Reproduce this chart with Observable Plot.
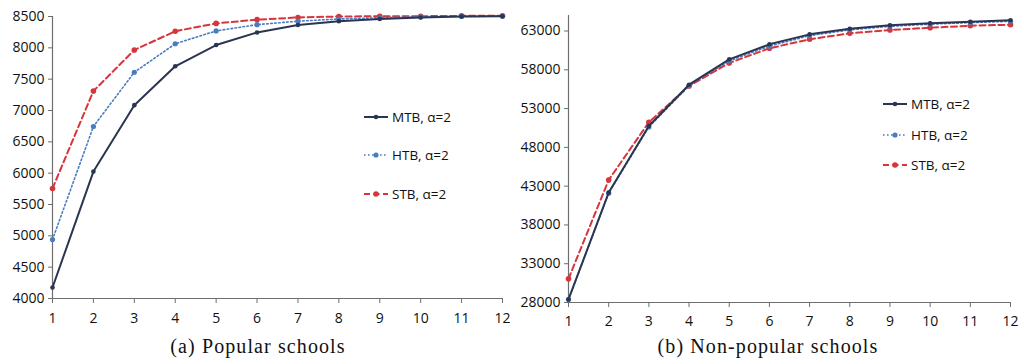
<!DOCTYPE html>
<html><head><meta charset="utf-8">
<script src="https://cdn.jsdelivr.net/npm/d3@7"></script>
<script src="https://cdn.jsdelivr.net/npm/@observablehq/plot@0.6"></script>
<style>
body{margin:0;background:#fff;}
#wrap{position:relative;width:1024px;height:364px;overflow:hidden;background:#fff;}
.panel{position:absolute;top:0;}
.cap{position:absolute;top:335px;font-family:"Liberation Serif","DejaVu Serif",serif;font-size:20px;letter-spacing:1.1px;color:#111;white-space:nowrap;transform:translateX(-50%);}
.legend{position:absolute;font-family:"Open Sans",sans-serif;font-size:13.5px;color:#111;}
.legend .item{position:absolute;display:flex;align-items:center;white-space:nowrap;transform:translateY(-50%);}
.legend svg{display:block;margin-right:2px;}
</style></head>
<body><div id="wrap"></div>
<script>
const rounds = [1,2,3,4,5,6,7,8,9,10,11,12];
const seriesNames = ["MTB, α=2","HTB, α=2","STB, α=2"];
const popMTB = [4175, 6025, 7085, 7705, 8045, 8245, 8365, 8425, 8460, 8485, 8500, 8505];
const popHTB = [4940, 6745, 7610, 8065, 8270, 8370, 8425, 8460, 8480, 8495, 8500, 8505];
const popSTB = [5755, 7310, 7965, 8265, 8390, 8450, 8485, 8500, 8505, 8505, 8510, 8510];
const nonMTB = [28390, 42170, 50760, 56080, 59350, 61285, 62570, 63300, 63730, 63990, 64200, 64380];
const nonHTB = [28390, 42100, 50630, 55950, 59150, 61050, 62400, 63150, 63600, 63880, 64080, 64250];
const nonSTB = [31050, 43800, 51240, 55910, 58880, 60770, 61930, 62700, 63130, 63425, 63680, 63810];
const popTicks = [4000,4500,5000,5500,6000,6500,7000,7500,8000,8500];
const nonTicks = [28000,33000,38000,43000,48000,53000,58000,63000];
const captions = ["(a) Popular schools","(b) Non-popular schools"];

const styles = [
  {color:"#2a3552", width:2, dash:null, r:2.3},
  {color:"#4a7cc0", width:1.6, dash:"1.6,2.4", r:2.6},
  {color:"#d8343c", width:2, dash:"6,3.5", r:2.8}
];

function toRows(arrs){
  const rows=[];
  arrs.forEach((a,si)=>a.forEach((v,i)=>rows.push({x:rounds[i],y:v,s:si})));
  return rows;
}

function panel(arrs, yDomain, yTicks, o){
  const rows = toRows(arrs);
  const marks = [
    Plot.ruleX([1],{y1:yDomain[0],y2:yDomain[1],stroke:"#6e6e6e",strokeWidth:1.2}),
    Plot.ruleY([yDomain[0]],{stroke:"#6e6e6e",strokeWidth:1.2}),
    Plot.axisX({ticks:rounds,tickSize:5,tickPadding:o.xPad,stroke:"#6e6e6e",fill:"#111",label:null,tickFormat:d=>String(d)}),
    Plot.axisY({ticks:yTicks,tickSize:4,tickPadding:4,stroke:"#6e6e6e",fill:"#111",label:null,tickFormat:d=>String(d)})
  ];
  [2,1,0].forEach(si=>{
    const st=styles[si];
    const d=rows.filter(r=>r.s===si);
    marks.push(Plot.line(d,{x:"x",y:"y",stroke:st.color,strokeWidth:st.width,strokeDasharray:st.dash}));
    marks.push(Plot.dot(d,{x:"x",y:"y",r:st.r,fill:st.color,stroke:"none"}));
  });
  return Plot.plot({
    width:o.width,height:o.height,
    marginLeft:o.ml,marginRight:o.mr,marginTop:o.mt,marginBottom:o.mb,
    style:{fontFamily:"'Open Sans',sans-serif",fontSize:"14px",background:"#fff",overflow:"visible"},
    x:{domain:[1,12],label:null},
    y:{domain:yDomain,label:null},
    marks
  });
}

const wrap=document.getElementById("wrap");
const p1=panel([popMTB,popHTB,popSTB],[4000,8500],popTicks,{width:512,height:330,ml:52,mr:10,mt:16,mb:32,xPad:10});
p1.classList.add("panel"); p1.style.left="0px"; wrap.appendChild(p1);
const p2=panel([nonMTB,nonHTB,nonSTB],[28000,65000],nonTicks,{width:512,height:330,ml:56,mr:14,mt:15,mb:28,xPad:9});
p2.classList.add("panel"); p2.style.left="512px"; wrap.appendChild(p2);

[[258,captions[0]],[768,captions[1]]].forEach(([cx,t])=>{
  const c=document.createElement("div"); c.className="cap"; c.style.left=cx+"px"; c.textContent=t; wrap.appendChild(c);
});

function legend(left, ys){
  const L=document.createElement("div"); L.className="legend"; L.style.left=left+"px"; L.style.top="0px";
  seriesNames.forEach((n,i)=>{
    const st=styles[i];
    const it=document.createElement("div"); it.className="item"; it.style.top=ys[i]+"px";
    it.innerHTML=`<svg width="26" height="8"><line x1="0" y1="4" x2="24" y2="4" stroke="${st.color}" stroke-width="${st.width}" ${st.dash?`stroke-dasharray="${st.dash}"`:""}/><circle cx="12" cy="4" r="${st.r}" fill="${st.color}"/></svg><span>${n}</span>`;
    L.appendChild(it);
  });
  wrap.appendChild(L);
}
legend(364,[117,155,194]);
legend(883,[104,135,165]);
</script></body></html>
